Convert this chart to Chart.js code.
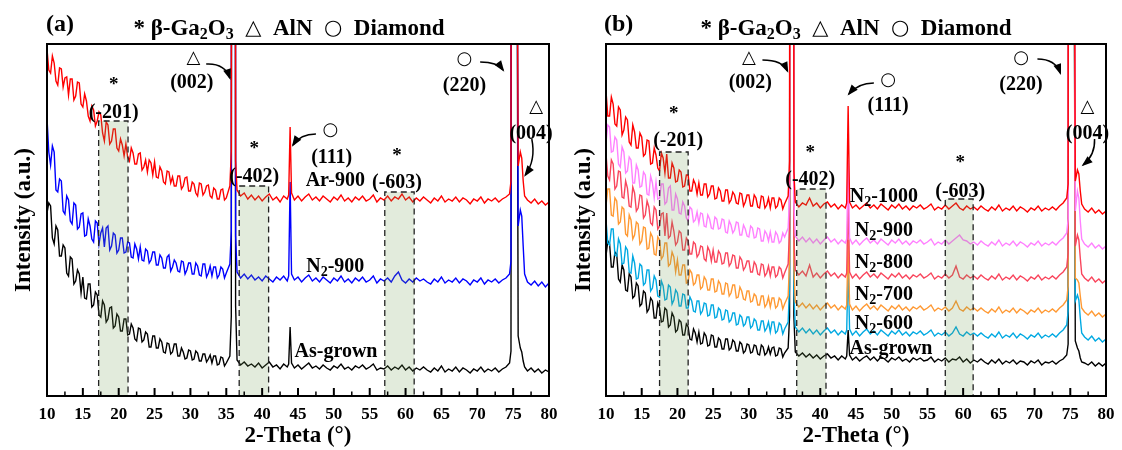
<!DOCTYPE html>
<html>
<head>
<meta charset="utf-8">
<script src="https://cdn.jsdelivr.net/npm/chart.js@4.4.1/dist/chart.umd.min.js"></script>
<style>
  body { margin: 0; background: #fff; width: 1122px; height: 450px; overflow: hidden; }
  .panel { position: absolute; top: 0; width: 561px; height: 450px; }
</style>
</head>
<body>
<div class="panel" style="left:0"><canvas id="panelA"></canvas></div>
<div class="panel" style="left:561px"><canvas id="panelB"></canvas></div>
<script>
// 2-theta positions (deg), shared by every scan
const theta = [
  10,10.25,10.5,10.75,11,11.25,11.5,11.75,12,12.25,12.5,12.75,13,13.25,13.5,13.75,14,14.25,14.5,14.75,
  15,15.25,15.5,15.75,16,16.25,16.5,16.75,17,17.25,17.5,17.75,18,18.25,18.5,18.75,19,19.25,19.5,19.75,
  20,20.25,20.5,20.75,21,21.25,21.5,21.75,22,22.25,22.5,22.75,23,23.25,23.5,23.75,24,24.25,24.5,24.75,
  25,25.25,25.5,25.75,26,26.25,26.5,26.75,27,27.25,27.5,27.75,28,28.25,28.5,28.75,29,29.25,29.5,29.75,
  30,30.25,30.5,30.75,31,31.25,31.5,31.75,32,32.25,32.5,32.75,33,33.25,33.5,33.75,34,34.25,34.5,34.75,
  35,35.5,35.7,35.9,36.1,36.3,36.5,37,37.5,38,
  38.5,39,39.5,40,40.5,41,41.5,42,42.5,43,
  43.5,43.7,43.9,44.1,44.5,45,45.5,46,46.5,47,
  47.5,48,48.5,49,49.5,50,50.5,51,51.5,52,
  52.5,53,53.5,54,54.5,55,55.5,56,56.5,57,
  57.5,58,58.5,59,59.5,60,60.5,61,61.5,62,
  62.5,63,63.5,64,64.5,65,65.5,66,66.5,67,
  67.5,68,68.5,69,69.5,70,70.5,71,71.5,72,
  72.5,73,73.5,74,74.5,74.7,74.9,75.1,75.3,75.5,
  75.7,76,76.2,76.4,76.6,77,77.5,78,78.5,79,
  79.5,80
];

// panel (a), intensity (a.u., offset per scan)
const ar900 = [
  347,326,323,340,333,315,311,328,327,309,318,319,301,317,317,296,300,314,313,292,
  289,302,295,280,275,290,286,270,275,284,281,263,255,274,271,252,255,267,267,248,
  245,257,251,240,252,239,235,248,243,232,232,242,243,226,229,236,224,236,233,221,
  234,219,218,229,225,214,212,225,224,213,219,210,210,220,220,207,210,218,219,205,
  205,214,212,203,200,213,212,201,204,210,211,200,198,208,206,197,197,206,207,196,
  198,210,245,2500,2500,235,206,200,203,197,
  201,196,200,195,199,202,196,199,194,200,
  197,201,269,203,196,200,195,199,202,196,
  199,195,200,197,194,199,196,201,195,198,
  194,199,196,200,195,197,201,194,198,196,
  200,195,199,197,202,196,199,194,198,195,
  199,196,193,198,195,200,194,197,195,199,
  194,198,196,192,197,195,199,193,197,195,
  198,194,197,199,202,215,2500,3000,2500,600,
  230,244,238,215,200,196,193,197,192,195,
  191,194
];
const n2_900a = [
  278,244,231,250,244,206,204,217,215,185,182,200,196,175,172,193,191,167,169,182,
  183,160,161,177,170,157,154,175,173,152,163,168,149,168,170,146,150,163,161,143,
  146,158,158,143,144,154,153,139,138,152,147,137,149,136,135,147,145,133,136,144,
  144,131,131,141,138,128,128,139,141,125,129,136,133,125,124,135,134,122,126,133,
  133,122,122,133,130,121,120,132,132,119,123,130,120,129,129,118,121,129,127,118,
  123,132,165,2500,2500,160,124,118,122,117,
  121,116,119,115,120,117,114,119,116,120,
  115,120,214,122,116,119,114,118,121,115,
  118,114,119,116,113,118,115,120,114,117,
  113,118,115,119,114,116,120,113,117,115,
  118,114,120,124,116,113,117,114,118,115,
  117,114,112,117,114,119,113,116,114,118,
  113,117,115,111,116,114,118,112,116,114,
  117,113,116,118,122,135,2500,3000,2500,600,
  170,186,180,150,122,114,111,115,110,114,
  109,113
];
const asGrownA = [
  183,193,190,158,152,170,166,140,140,151,148,123,120,139,137,112,115,126,122,103,
  119,98,97,112,112,89,91,104,101,81,79,95,91,74,77,88,89,68,70,82,
  79,65,65,77,77,61,62,72,68,57,55,68,67,54,56,64,62,49,49,60,
  60,48,48,57,54,44,43,53,52,42,44,52,52,40,40,48,44,37,38,46,
  45,36,37,45,43,35,35,42,42,34,37,41,33,40,40,31,32,39,38,30,
  33,40,80,2500,2500,90,36,31,34,30,
  32,29,33,28,31,34,29,31,27,32,
  29,32,69,33,28,31,27,30,33,28,
  30,27,31,28,26,30,28,32,27,29,
  26,30,28,31,27,29,32,26,28,27,
  30,26,29,27,31,26,29,25,28,26,
  29,26,24,28,25,30,24,27,25,29,
  24,28,26,23,27,25,29,24,27,25,
  28,24,27,29,33,45,2500,3000,2500,600,
  60,48,44,35,29,25,28,24,27,23,
  26,24
];

// panel (b)
const n2_1000 = [
  305,280,280,299,292,272,270,289,286,261,266,279,276,254,251,271,264,248,248,263,
  259,240,242,256,255,232,233,248,241,228,225,243,238,223,242,218,218,233,228,214,
  215,226,224,209,210,221,221,205,205,216,212,202,213,201,201,212,212,199,202,210,
  210,197,198,208,205,195,195,206,206,193,196,204,201,193,192,203,202,190,194,201,
  201,190,190,201,198,189,188,200,199,188,191,198,188,198,198,188,190,198,196,187,
  192,200,235,2500,2500,225,194,189,193,191,
  198,190,193,188,192,194,189,192,187,191,
  188,193,290,194,188,191,187,190,193,188,
  191,187,192,189,186,191,188,192,187,190,
  186,190,188,191,187,189,192,186,189,187,
  191,187,190,193,188,186,190,187,189,186,
  190,187,185,189,186,191,185,188,186,190,
  185,189,187,184,188,186,190,185,188,186,
  189,186,190,193,198,212,2500,3000,2500,600,
  215,226,222,205,192,187,184,188,183,186,
  182,185
];
const n2_900b = [
  253,271,269,244,245,259,256,232,229,249,244,223,225,239,236,213,213,231,226,209,
  210,224,221,202,201,220,213,198,214,197,198,212,212,192,194,208,210,186,186,202,
  197,183,182,194,190,178,175,189,187,174,176,184,173,183,182,170,169,181,177,168,
  167,179,177,167,168,177,176,164,163,175,171,163,166,174,173,161,161,171,167,160,
  159,170,168,158,159,168,167,155,155,165,162,155,164,154,154,164,161,153,155,163,
  159,168,200,2500,2500,195,160,155,159,154,
  158,153,157,152,156,159,154,157,152,156,
  153,157,236,158,152,156,151,155,158,153,
  156,152,157,154,151,156,153,157,152,155,
  151,155,153,156,152,154,157,151,154,152,
  156,152,155,158,161,156,155,152,154,151,
  155,152,150,154,151,156,150,153,151,155,
  150,154,152,149,153,151,155,150,153,151,
  154,151,155,158,163,177,2500,3000,2500,600,
  185,205,198,175,157,152,149,153,148,151,
  147,150
];
const n2_800 = [
  242,220,216,236,232,207,210,225,224,199,198,215,208,190,189,209,203,185,188,201,
  200,178,181,195,189,173,171,189,186,167,170,182,183,160,183,158,160,174,165,151,
  154,165,163,146,146,158,155,142,142,154,152,139,142,150,149,137,135,149,145,135,
  146,134,134,145,142,132,133,143,143,130,133,141,140,128,128,139,136,126,129,135,
  135,124,124,134,131,122,121,132,131,120,123,130,120,129,129,119,121,129,127,118,
  123,132,168,2500,2500,160,126,121,125,120,
  131,119,123,118,122,125,120,123,118,122,
  119,123,201,124,118,122,117,121,124,119,
  122,118,123,120,117,122,119,123,118,121,
  117,121,119,122,118,120,123,117,120,118,
  122,118,121,130,119,117,121,118,120,117,
  121,118,116,120,117,122,116,119,117,121,
  116,120,118,115,119,117,121,116,119,117,
  120,117,121,124,129,143,2500,3000,2500,600,
  150,161,156,138,122,118,115,119,114,117,
  113,116
];
const n2_700 = [
  190,207,207,181,180,198,195,172,174,189,187,162,160,181,176,157,161,174,172,152,
  155,169,168,147,148,163,159,142,141,159,156,137,140,153,153,130,132,144,139,124,
  136,121,121,131,131,113,114,126,123,111,113,121,121,107,109,119,116,106,106,117,
  117,104,105,115,112,102,102,113,112,100,103,111,111,98,99,109,105,97,96,105,
  105,94,95,102,100,91,91,100,100,89,92,99,89,98,98,88,90,98,96,87,
  92,100,135,2500,2500,130,94,89,93,88,
  92,87,91,86,90,93,88,91,86,90,
  87,91,156,92,86,90,85,89,92,87,
  90,86,91,88,85,90,87,91,86,89,
  85,89,87,90,86,88,91,85,88,86,
  89,85,88,95,87,85,89,86,88,85,
  88,85,83,87,84,89,83,86,84,88,
  83,87,85,82,86,84,88,83,86,84,
  87,84,88,91,96,110,2500,3000,2500,600,
  118,116,113,100,88,84,81,85,80,83,
  79,82
];
const n2_600 = [
  176,153,151,167,167,141,140,157,152,132,133,149,146,124,123,140,133,117,118,132,
  130,111,113,126,126,105,108,120,116,100,99,115,110,96,97,111,109,92,96,106,
  103,90,90,102,101,88,88,99,95,85,84,95,95,82,85,93,92,80,81,91,
  91,78,79,88,86,76,77,86,85,74,76,83,83,71,72,81,79,70,72,79,
  79,68,70,77,75,66,66,75,75,65,68,74,64,74,74,63,65,73,71,62,
  67,74,110,2500,2500,105,69,64,68,63,
  67,62,66,61,65,68,63,66,61,65,
  62,66,131,67,61,65,60,64,67,62,
  65,61,66,63,60,65,62,66,61,64,
  60,64,62,65,61,63,66,60,63,61,
  64,60,63,69,62,60,64,61,63,60,
  63,60,58,62,59,64,58,61,59,63,
  58,62,60,57,61,59,63,58,61,59,
  62,59,63,66,71,85,2500,3000,2500,600,
  95,101,96,78,63,59,56,60,55,58,
  54,57
];
const asGrownB = [
  140,155,152,129,129,144,142,117,114,131,126,106,105,122,119,98,100,113,110,90,
  92,105,103,84,87,98,95,78,78,93,88,74,75,88,86,69,71,83,79,64,
  66,76,74,61,61,72,69,57,56,67,63,54,64,52,53,63,60,50,51,61,
  60,49,49,58,56,47,47,57,57,46,48,56,54,45,45,54,52,43,45,52,
  51,43,44,51,50,42,41,51,49,41,43,49,42,48,49,40,41,48,47,39,
  43,48,80,2500,2500,80,44,40,43,39,
  42,38,41,37,40,42,38,40,36,40,
  37,40,66,41,36,39,35,38,40,36,
  39,35,39,37,34,38,36,39,35,37,
  34,38,36,38,35,36,39,34,37,35,
  38,34,37,36,39,34,37,33,36,34,
  37,34,32,36,33,37,32,35,33,36,
  32,35,34,31,35,33,36,31,34,33,
  35,32,35,37,41,52,2500,3000,2500,600,
  55,48,45,38,34,33,31,34,30,33,
  30,33
];

// beta-Ga2O3 regions: start, end (deg), box top (a.u.)
const regionNames = ['(-201)', '(-402)', '(-603)'];
const regionStartA = [17.2, 36.8, 57.1];
const regionEndA = [21.3, 40.9, 61.2];
const regionTopA = [275, 210, 204];
const regionStartB = [17.5, 36.7, 57.5];
const regionEndB = [21.5, 40.8, 61.4];
const regionTopB = [244, 207, 197];

const SERIF = '"Liberation Serif", "Times New Roman", serif';
const SYMF = '"DejaVu Sans", sans-serif';

function fontOf(p) {
  return p.sym ? (p.s + 'px ' + SYMF) : ('bold ' + p.s + 'px ' + SERIF);
}

function drawParts(ctx, parts, x, y, align) {
  let w = 0;
  parts.forEach(p => { ctx.font = fontOf(p); w += ctx.measureText(p.t).width; });
  let cx = align === 'left' ? x : x - w / 2;
  ctx.textAlign = 'left';
  ctx.textBaseline = 'middle';
  ctx.fillStyle = '#000';
  parts.forEach(p => {
    ctx.font = fontOf(p);
    ctx.fillText(p.t, cx, y + (p.dy || 0));
    cx += ctx.measureText(p.t).width;
  });
}

function txt(t, s) { return [{ t: t, s: s || 20 }]; }
function sample(rest) { return [{ t: 'N', s: 20 }, { t: '2', s: 14, dy: 5 }, { t: rest, s: 20 }]; }
const triMark = [{ t: '△', s: 18, sym: true }];
const circMark = [{ t: '○', s: 18, sym: true }];
const starMark = [{ t: '*', s: 19 }];

const legendParts = [
  { t: '* β-Ga', s: 23 }, { t: '2', s: 16, dy: 6 }, { t: 'O', s: 23 }, { t: '3', s: 16, dy: 6 },
  { t: '  ', s: 23 }, { t: '△', s: 21, sym: true }, { t: '  AlN  ', s: 23 },
  { t: '○', s: 21, sym: true }, { t: '  Diamond', s: 23 }
];

function decorPlugin(opt) {
  return {
    id: 'decor',
    afterDatasetsDraw(chart) {
      const ctx = chart.ctx, a = chart.chartArea;
      const xs = chart.scales.x, ys = chart.scales.y;
      const px = v => xs.getPixelForValue(v), py = v => ys.getPixelForValue(v);

      // shaded regions
      ctx.save();
      ctx.beginPath(); ctx.rect(a.left, a.top, a.width, a.height); ctx.clip();
      opt.start.forEach((s, i) => {
        const x0 = px(s), x1 = px(opt.end[i]), yt = py(opt.top[i]);
        ctx.fillStyle = 'rgba(110,155,80,0.2)';
        ctx.fillRect(x0, yt, x1 - x0, a.bottom - yt);
        ctx.strokeStyle = '#222';
        ctx.lineWidth = 1.3;
        ctx.setLineDash([6, 4]);
        ctx.beginPath();
        ctx.moveTo(x0, a.bottom); ctx.lineTo(x0, yt); ctx.lineTo(x1, yt); ctx.lineTo(x1, a.bottom);
        ctx.stroke();
      });
      ctx.restore();

      // labels
      ctx.save();
      opt.notes.forEach(n => drawParts(ctx, n[0], px(n[1]), py(n[2]), 'center'));

      // arrows
      ctx.strokeStyle = '#000';
      ctx.fillStyle = '#000';
      ctx.lineWidth = 1.5;
      opt.arrows.forEach(ar => {
        const x0 = px(ar[0]), y0 = py(ar[1]), cx = px(ar[2]), cy = py(ar[3]), x1 = px(ar[4]), y1 = py(ar[5]);
        ctx.beginPath(); ctx.moveTo(x0, y0); ctx.quadraticCurveTo(cx, cy, x1, y1); ctx.stroke();
        const ang = Math.atan2(y1 - cy, x1 - cx);
        ctx.beginPath();
        ctx.moveTo(x1 + 2 * Math.cos(ang), y1 + 2 * Math.sin(ang));
        ctx.lineTo(x1 - 9 * Math.cos(ang) + 4 * Math.sin(ang), y1 - 9 * Math.sin(ang) - 4 * Math.cos(ang));
        ctx.lineTo(x1 - 9 * Math.cos(ang) - 4 * Math.sin(ang), y1 - 9 * Math.sin(ang) + 4 * Math.cos(ang));
        ctx.closePath(); ctx.fill();
      });

      // frame
      ctx.lineWidth = 2;
      ctx.strokeRect(a.left, a.top, a.width, a.height);

      // inward ticks on the bottom axis
      xs.ticks.forEach(t => {
        const x = px(t.value);
        ctx.beginPath(); ctx.moveTo(x, a.bottom); ctx.lineTo(x, a.bottom - 8); ctx.stroke();
      });
      ctx.lineWidth = 1.5;
      for (let v = xs.min + 2.5; v < xs.max; v += 5) {
        const x = px(v);
        ctx.beginPath(); ctx.moveTo(x, a.bottom); ctx.lineTo(x, a.bottom - 4.5); ctx.stroke();
      }

      // y title
      ctx.save();
      ctx.translate(opt.yTitleX, (a.top + a.bottom) / 2);
      ctx.rotate(-Math.PI / 2);
      ctx.font = 'bold 23px ' + SERIF;
      ctx.textAlign = 'center';
      ctx.textBaseline = 'middle';
      ctx.fillText('Intensity (a.u.)', 0, 0);
      ctx.restore();

      // panel tag and phase legend
      drawParts(ctx, [{ t: opt.tag, s: 24 }], opt.tagX, 25, 'left');
      drawParts(ctx, legendParts, opt.legendX, 29, 'center');
      ctx.restore();
    }
  };
}

function makePanel(id, series, opt) {
  new Chart(document.getElementById(id), {
    type: 'line',
    data: {
      datasets: series.map(s => ({
        data: theta.map((t, i) => ({ x: t, y: s.values[i] })),
        borderColor: s.color,
        borderWidth: 1.4,
        pointRadius: 0,
        tension: 0,
        fill: false
      }))
    },
    options: {
      responsive: true,
      maintainAspectRatio: false,
      animation: false,
      devicePixelRatio: 1,
      events: [],
      layout: { padding: { left: opt.padLeft, right: opt.padRight, top: 44, bottom: 0 } },
      plugins: { legend: { display: false }, tooltip: { enabled: false } },
      scales: {
        x: {
          type: 'linear',
          min: 10,
          max: 80,
          grid: { display: false },
          border: { display: false },
          ticks: { stepSize: 5, color: '#000', padding: 0, font: { family: SERIF, size: 17, weight: 'bold' } },
          title: { display: true, text: '2-Theta (°)', color: '#000', padding: 0, font: { family: SERIF, size: 23, weight: 'bold' } },
          afterFit(scale) { scale.height = 54; }
        },
        y: { display: false, min: 0, max: 352 }
      }
    },
    plugins: [decorPlugin(opt)]
  });
}

makePanel('panelA', [
  { values: ar900, color: '#ff0000' },
  { values: n2_900a, color: '#0000ff' },
  { values: asGrownA, color: '#000000' }
], {
  padLeft: 47, padRight: 12, yTitleX: 24, tag: '(a)', tagX: 46, legendX: 289,
  start: regionStartA, end: regionEndA, top: regionTopA,
  notes: [
    [triMark, 30.4, 338], [txt('(002)'), 30.2, 313],
    [starMark, 19.3, 311], [txt(regionNames[0]), 19.3, 283],
    [circMark, 49.5, 266], [txt('(111)'), 49.7, 238],
    [starMark, 38.9, 247], [txt(regionNames[1]), 38.9, 219],
    [txt('Ar-900'), 50.2, 215],
    [starMark, 58.8, 240], [txt(regionNames[2]), 58.8, 213],
    [circMark, 68.2, 337], [txt('(220)'), 68.2, 310],
    [triMark, 78.2, 289], [txt('(004)'), 77.5, 262],
    [sample('-900'), 50.2, 129],
    [txt('As-grown'), 50.3, 44]
  ],
  arrows: [
    [32.2, 332, 34.8, 333, 35.5, 318],
    [47.5, 262, 45.3, 262, 44.3, 251],
    [70.4, 334, 72.8, 334, 73.6, 326],
    [77.6, 257, 78.2, 236, 76.7, 221]
  ]
});

makePanel('panelB', [
  { values: n2_1000, color: '#ff0000' },
  { values: n2_900b, color: '#ff80ff' },
  { values: n2_800, color: '#f9455c' },
  { values: n2_700, color: '#ff9933' },
  { values: n2_600, color: '#00a9e2' },
  { values: asGrownB, color: '#000000' }
], {
  padLeft: 45, padRight: 16, yTitleX: 23, tag: '(b)', tagX: 43, legendX: 295,
  start: regionStartB, end: regionEndB, top: regionTopB,
  notes: [
    [triMark, 30.0, 338], [txt('(002)'), 30.2, 313],
    [circMark, 49.5, 316], [txt('(111)'), 49.5, 290],
    [circMark, 68.1, 338], [txt('(220)'), 68.1, 311],
    [triMark, 77.4, 289], [txt('(004)'), 77.4, 262],
    [starMark, 19.5, 282], [txt(regionNames[0]), 20.1, 255],
    [starMark, 38.6, 243], [txt(regionNames[1]), 38.6, 216],
    [starMark, 59.6, 233], [txt(regionNames[2]), 59.6, 204],
    [sample('-1000'), 48.9, 199],
    [sample('-900'), 48.9, 165],
    [sample('-800'), 48.9, 133],
    [sample('-700'), 48.9, 101],
    [sample('-600'), 48.9, 72],
    [txt('As-grown'), 49.9, 47]
  ],
  arrows: [
    [31.9, 336, 34.7, 336, 35.4, 325],
    [47.5, 313, 45.3, 313, 44.0, 302],
    [70.4, 337, 72.9, 337, 73.6, 323],
    [78.4, 257, 78.5, 241, 76.8, 231]
  ]
});
</script>
</body>
</html>
